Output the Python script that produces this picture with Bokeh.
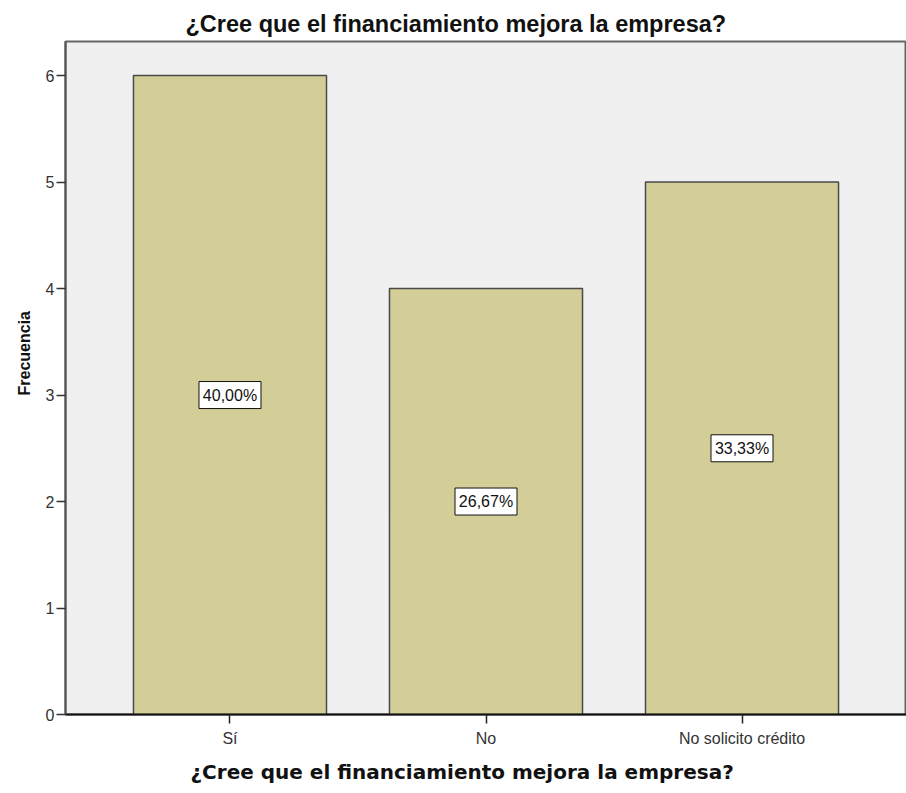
from bokeh.plotting import figure
from bokeh.models import FactorRange, Range1d, Title, FixedTicker, ColumnDataSource
from bokeh.embed import file_html
from bokeh.resources import INLINE
from bokeh.core.properties import value

categories = ["Sí", "No", "No solicito crédito"]
counts = [6, 4, 5]
pct_labels = ["40,00%", "26,67%", "33,33%"]
y_ticks = [0, 1, 2, 3, 4, 5, 6]
title_text = "¿Cree que el financiamiento mejora la empresa?"
x_label = "¿Cree que el financiamiento mejora la empresa?"
y_label = "Frecuencia"

src = ColumnDataSource(dict(cat=categories, count=counts,
                            mid=[c / 2 for c in counts], lab=pct_labels))

p = figure(width=906, height=792,
           x_range=FactorRange(factors=categories, range_padding=0.1425,
                               range_padding_units="absolute"),
           y_range=Range1d(0, 6.32),
           output_backend="svg", toolbar_location=None,
           min_border_left=65, min_border_right=0, min_border_top=41,
           min_border_bottom=78)

p.title.text = title_text
p.title.align = "left"
p.title.offset = 120
p.title.text_font = "Liberation Sans"
p.title.text_font_size = "23.5px"
p.title.text_font_style = "bold"
p.title.text_color = "#111111"
p.title.standoff = 10

p.background_fill_color = "#f0f0f0"
p.border_fill_color = "white"
p.outline_line_color = "#666666"
p.outline_line_width = 2
p.xgrid.visible = False
p.ygrid.visible = False

p.vbar(x="cat", top="count", bottom=0, width=0.754, source=src,
       fill_color="#d3ce97", line_color="#4a4a4a", line_width=1.5)

p.rect(x="cat", y="mid", width=62, height=27, width_units="screen",
       height_units="screen", source=src, fill_color="white",
       line_color="#111111", line_width=1)
p.text(x="cat", y="mid", text="lab", source=src, text_align="center",
       text_baseline="middle", text_font=value("Liberation Sans"),
       text_font_size="16px", text_color="#111111")

# axes
p.yaxis.ticker = FixedTicker(ticks=y_ticks)
p.yaxis.minor_tick_line_color = None
p.yaxis.major_tick_out = 9
p.yaxis.major_tick_in = 0
p.yaxis.major_tick_line_color = "#333333"
p.yaxis.major_tick_line_width = 1.5
p.yaxis.axis_line_color = "#555555"
p.yaxis.axis_line_width = 2
p.yaxis.major_label_text_font = "Liberation Sans"
p.yaxis.major_label_text_font_size = "16px"
p.yaxis.major_label_text_color = "#333333"
p.yaxis.major_label_standoff = 2

p.xaxis.major_tick_out = 9
p.xaxis.major_tick_in = 0
p.xaxis.major_tick_line_color = "#222222"
p.xaxis.major_tick_line_width = 1.5
p.xaxis.axis_line_color = "#111111"
p.xaxis.axis_line_width = 2
p.xaxis.major_label_text_font = "Liberation Sans"
p.xaxis.major_label_text_font_size = "16px"
p.xaxis.major_label_text_color = "#333333"
p.xaxis.major_label_standoff = 6

xt = Title(text=x_label, align="left", offset=125,
           text_font="DejaVu Sans", text_font_size="20px",
           text_font_style="bold", text_color="#111111", standoff=17)
p.add_layout(xt, "below")

yt = Title(text=y_label, align="left", offset=319,
           text_font="Liberation Sans", text_font_size="16px",
           text_font_style="bold", text_color="#111111", standoff=19)
p.add_layout(yt, "left")

open("out.html", "w").write(file_html(p, INLINE))
